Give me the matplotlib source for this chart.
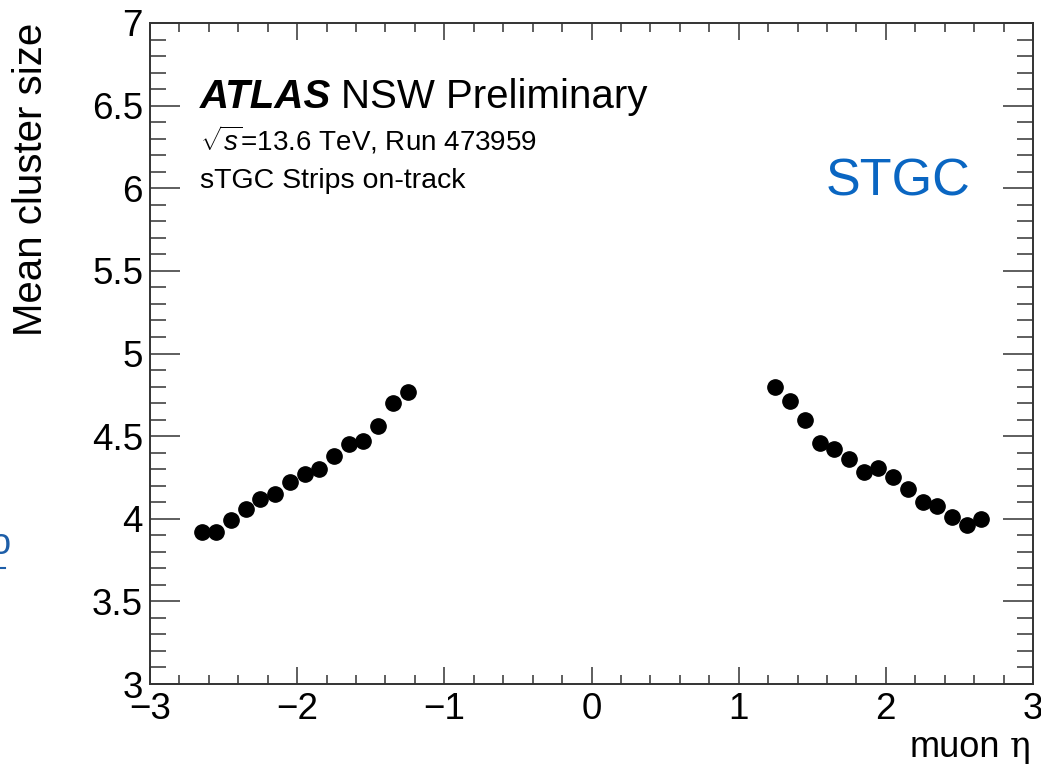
import matplotlib
matplotlib.use("Agg")
import matplotlib.pyplot as plt
from matplotlib.lines import Line2D
from matplotlib.ticker import MultipleLocator

plt.rcParams['font.family'] = ['Liberation Sans', 'DejaVu Sans']
plt.rcParams['mathtext.fontset'] = 'custom'
plt.rcParams['mathtext.rm'] = 'Liberation Sans'
plt.rcParams['mathtext.it'] = 'Liberation Sans:italic'

# mean strip cluster size per muon eta bin
eta_neg = [-2.65, -2.55, -2.45, -2.35, -2.25, -2.15, -2.05, -1.95,
           -1.85, -1.75, -1.65, -1.55, -1.45, -1.35, -1.25]
size_neg = [3.92, 3.92, 3.99, 4.06, 4.12, 4.15, 4.22, 4.27,
            4.30, 4.38, 4.45, 4.47, 4.56, 4.70, 4.77]
eta_pos = [1.25, 1.35, 1.45, 1.55, 1.65, 1.75, 1.85, 1.95,
           2.05, 2.15, 2.25, 2.35, 2.45, 2.55, 2.65]
size_pos = [4.80, 4.71, 4.60, 4.46, 4.42, 4.36, 4.28, 4.31,
            4.25, 4.18, 4.10, 4.08, 4.01, 3.96, 4.00]

W, H = 1041, 767
fig = plt.figure(figsize=(W / 100, H / 100), dpi=100)
ax = fig.add_axes([150 / W, 1 - 684 / H, 883 / W, 661 / H])

ax.plot(eta_neg + eta_pos, size_neg + size_pos, 'o', color='black',
        markersize=11, linestyle='none')

ax.set_xlim(-3, 3)
ax.set_ylim(3, 7)
ax.xaxis.set_major_locator(MultipleLocator(1))
ax.xaxis.set_minor_locator(MultipleLocator(0.2))
ax.yaxis.set_major_locator(MultipleLocator(0.5))
ax.yaxis.set_minor_locator(MultipleLocator(0.1))
ax.yaxis.set_major_formatter(plt.FuncFormatter(lambda v, p: '%g' % v))
ax.xaxis.set_major_formatter(plt.FuncFormatter(lambda v, p: ('%g' % v).replace('-', '\u2212')))

ax.tick_params(axis='both', which='both', direction='in', top=True, right=True,
               color='#333333', width=1.1, labelsize=26.5)
ax.tick_params(axis='x', which='major', length=12, pad=6)
ax.tick_params(axis='x', which='minor', length=6.5)
ax.tick_params(axis='y', which='major', length=21.5, pad=5)
ax.tick_params(axis='y', which='minor', length=11.5)
for s in ax.spines.values():
    s.set_linewidth(1.4)
    s.set_color('#333333')

ax.set_ylabel('Mean cluster size', fontsize=29, loc='top')
ax.yaxis.set_label_coords(-0.113, 1.0)

# x label: "muon" plus a serif eta, right aligned at the axis end
fig.text(1000 / W, 1 - 757 / H, 'muon', fontsize=26, ha='right', va='baseline')
fig.text(1031 / W, 1 - 757 / H, '\u03b7', fontsize=25, ha='right', va='baseline',
         family=['DejaVu Serif'])

fig.text(200 / W, 1 - 108 / H, 'ATLAS', fontsize=29, weight='bold', style='italic',
         va='baseline')
fig.text(341 / W, 1 - 108 / H, 'NSW Preliminary', fontsize=29, va='baseline')
fig.text(200 / W, 1 - 150 / H, r'$\sqrt{s}$=13.6 TeV, Run 473959', fontsize=20,
         va='baseline')
fig.text(200 / W, 1 - 188 / H, 'sTGC Strips on-track', fontsize=20.5, va='baseline')

fig.text(898 / W, 1 - 182 / H, 'STGC', fontsize=37.5, color='#0a66c2',
         ha='center', va='center')

# clipped blue link fragment at the left edge of the screenshot
fig.text(-9 / W, 1 - 545 / H, 'o', fontsize=26, color='#1d5ea8', va='center')
fig.add_artist(Line2D([0, 5 / W], [1 - 568 / H] * 2, color='#1d5ea8', lw=1.5))

fig.savefig('out.png', dpi=100)
